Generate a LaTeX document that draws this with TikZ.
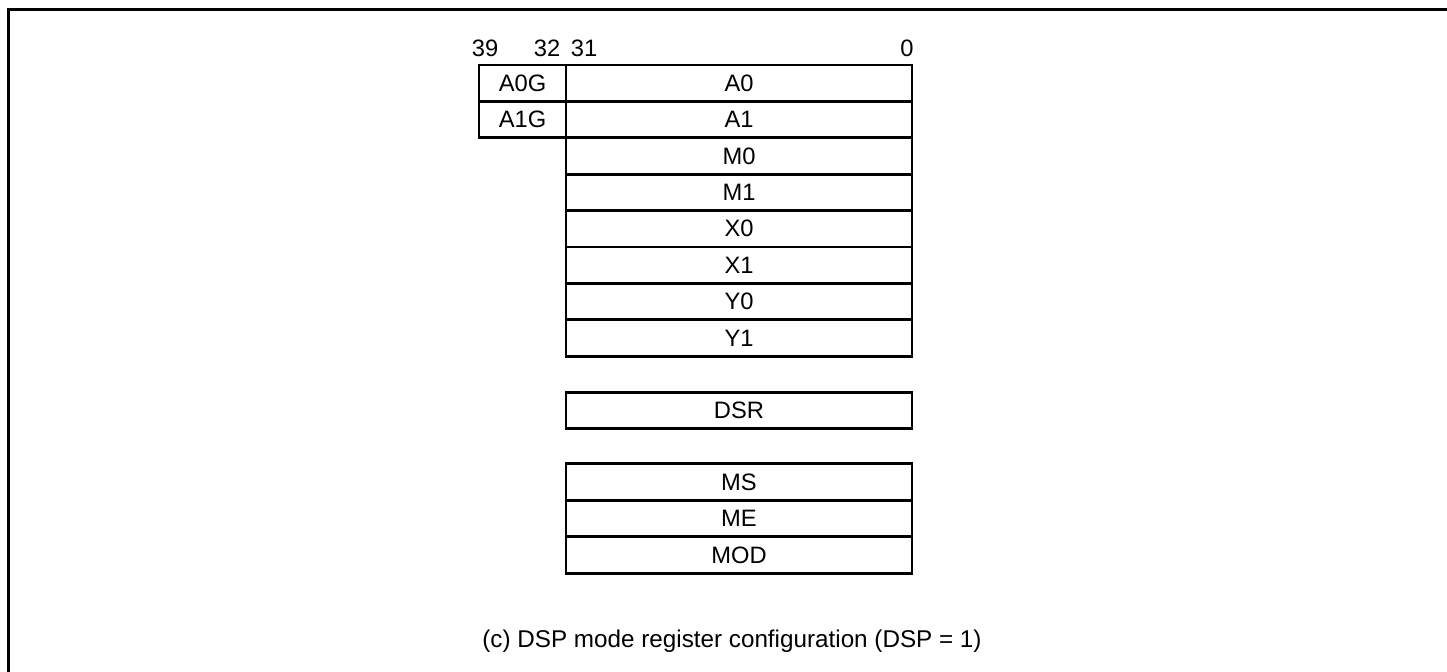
\documentclass[tikz,border=0pt]{standalone}
\usepackage{fontspec}
\setmainfont{Liberation Sans}
\usetikzlibrary{positioning}

\tikzset{
  regbox/.style={draw, line width=1.6pt, outer sep=0pt, inner sep=0pt,
    minimum width=6.92cm, minimum height=0.73cm,
    font=\fontsize{13.5}{15}\selectfont},
  guardbox/.style={regbox, minimum width=1.74cm},
  bitno/.style={inner sep=0pt, font=\fontsize{13.5}{15}\selectfont},
}

\begin{document}
\begin{tikzpicture}[x=0.02cm, y=-0.02cm]
  \useasboundingbox (0,0) rectangle (1447,672);
  % page frame (left and top only)
  \draw[line width=1.7pt] (8.5,672) -- (8.5,9.5) -- (1447,9.5);

  % bit positions
  \node[bitno] (b39) at (485,48) {39};
  \node[bitno] (b32) at (547,48) {32};
  \node[bitno] (b31) at (584,48) {31};
  \node[bitno] (b0)  at (907,48) {0};

  % register file
  \foreach \r [count=\i from 0] in {A0,A1,M0,M1,X0,X1,Y0,Y1}{
    \node[regbox] (\r) at (739,83.2+36.4*\i) {\r};
  }
  \node[guardbox] (A0G) at (522.5,83.2)  {A0G};
  \node[guardbox] (A1G) at (522.5,119.6) {A1G};

  % control registers
  \node[regbox] (DSR) at (739,410.5) {DSR};
  \node[regbox] (MS)  at (739,482)   {MS};
  \node[regbox] (ME)  at (739,518.5) {ME};
  \node[regbox] (MOD) at (739,555)   {MOD};

  \node[inner sep=0pt, font=\fontsize{13.8}{16}\selectfont] (caption) at (732,641)
    {(c) DSP mode register configuration (DSP = 1)};
\end{tikzpicture}
\end{document}
